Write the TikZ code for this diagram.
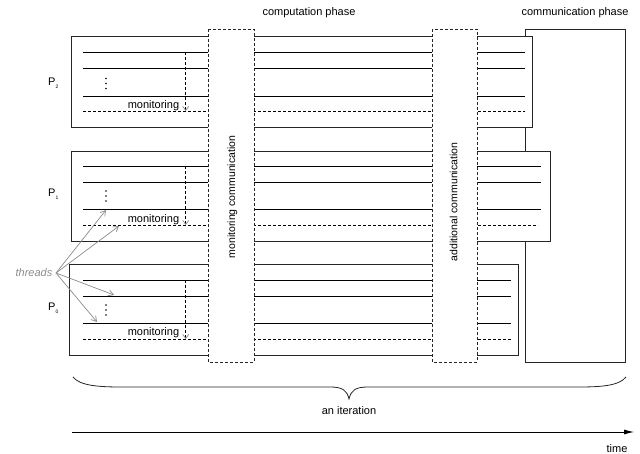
\documentclass[tikz,border=0pt]{standalone}
\usepackage{fontspec}
\setmainfont{Liberation Sans}
\usetikzlibrary{arrows.meta}
\definecolor{thgray}{gray}{0.55}
\begin{document}
\begin{tikzpicture}[x=1pt,y=-1pt,
  lbl/.style={font=\fontsize{11}{13}\selectfont, inner sep=0pt},
  vlbl/.style={font=\fontsize{10.5}{12}\selectfont, inner sep=0pt, rotate=90},
  boxline/.style={draw=black!85, line width=0.8pt, fill=white},
  thread/.style={draw=black, line width=0.8pt},
  dthread/.style={draw=black, line width=0.8pt, dash pattern=on 3pt off 2pt},
  column/.style={draw=black!85, line width=0.8pt, dash pattern=on 3pt off 2pt, fill=white},
  monarrow/.style={draw=black, line width=0.7pt, dash pattern=on 3pt off 2pt, -{Straight Barb[length=4pt,width=6pt,color=thgray]}},
  tharrow/.style={draw=thgray, line width=0.7pt, -{Straight Barb[length=5pt,width=6pt]}},
  dotmark/.style={fill=black, circle, inner sep=0pt, minimum size=1.6pt}
]
\useasboundingbox (0,0) rectangle (640,454);

% communication phase box
\draw[boxline] (525,29) rectangle (625,362);

% process boxes
\draw[boxline] (71.5,36.5) rectangle (532,127);
\draw[boxline] (71.5,151) rectangle (550,241);
\draw[boxline] (69,264) rectangle (518,355);

% threads P2
\foreach \y in {52,68,96} \draw[thread] (83,\y) -- (525,\y);
\draw[dthread] (83,111) -- (525,111);
% threads P1
\foreach \y in {166,182,209} \draw[thread] (83,\y) -- (541,\y);
\draw[dthread] (83,225) -- (538,225);
% threads P0
\foreach \y in {280,296,323} \draw[thread] (83,\y) -- (511,\y);
\draw[dthread] (83,339) -- (511,339);

% monitoring arrows
\coordinate (m2a) at (185.7,52);  \coordinate (m2b) at (185.7,111);
\coordinate (m1a) at (185.7,166); \coordinate (m1b) at (185.7,225);
\coordinate (m0a) at (185.7,280); \coordinate (m0b) at (185.7,339);
\draw[monarrow] (m2a) -- (m2b);
\draw[monarrow] (m1a) -- (m1b);
\draw[monarrow] (m0a) -- (m0b);

\node[lbl] (mon2) at (153.5,105.3) {monitoring};
\node[lbl] (mon1) at (153.5,219.3) {monitoring};
\node[lbl] (mon0) at (153.5,332.7) {monitoring};

% vertical dots
\foreach \c [count=\i] in {83.5,196,310} {
  \node[dotmark] (d\i a) at (106,\c-5) {};
  \node[dotmark] (d\i b) at (106,\c) {};
  \node[dotmark] (d\i c) at (106,\c+5) {};
}

% communication columns
\draw[column] (208,29) rectangle (254,362);
\draw[column] (432,29) rectangle (477,362);
\node[vlbl] (moncomm) at (232.5,197) {monitoring communication};
\node[vlbl] (addcomm) at (453.5,202) {additional communication};

% process labels
\node[lbl, anchor=base west] (p2) at (48,86) {P\raisebox{-3pt}{\fontsize{5}{5}\selectfont 2}};
\node[lbl, anchor=base west] (p1) at (48,197) {P\raisebox{-3pt}{\fontsize{5}{5}\selectfont 1}};
\node[lbl, anchor=base west] (p0) at (48,311) {P\raisebox{-3pt}{\fontsize{5}{5}\selectfont 0}};

% phase labels
\node[lbl] (comp) at (309,12.5) {computation phase};
\node[lbl] (commph) at (575,12.5) {communication phase};

% threads label and arrows
\coordinate (tsrc) at (56,273);
\node[lbl, text=thgray, font=\fontsize{11}{13}\selectfont\itshape, anchor=east] (threads) at (52.5,272.5) {threads};
\coordinate (t1) at (106,210);
\coordinate (t2) at (119,226);
\coordinate (t3) at (114,295);
\coordinate (t4) at (97,322);
\draw[tharrow] (tsrc) -- (t1);
\draw[tharrow] (tsrc) -- (t2);
\draw[tharrow] (tsrc) -- (t3);
\draw[tharrow] (tsrc) -- (t4);

% brace
\coordinate (bl) at (73,377);
\coordinate (br) at (626,377);
\coordinate (btip) at (349,399);
\draw[line width=0.8pt, draw=black!85] (bl) .. controls (80,386) and (100,387) .. (122,387) -- (330,387)
  .. controls (342,387) and (347,390) .. (btip)
  .. controls (351,390) and (356,387) .. (368,387) -- (578,387)
  .. controls (600,387) and (619,386) .. (br);
\node[lbl] (iter) at (349,410.5) {an iteration};

% time axis
\coordinate (ta) at (72,432);
\coordinate (tb) at (634,432);
\draw[line width=0.8pt, -{Latex[length=10pt,width=5pt]}] (ta) -- (tb);
\node[lbl] (time) at (617,449) {time};
\end{tikzpicture}
\end{document}
